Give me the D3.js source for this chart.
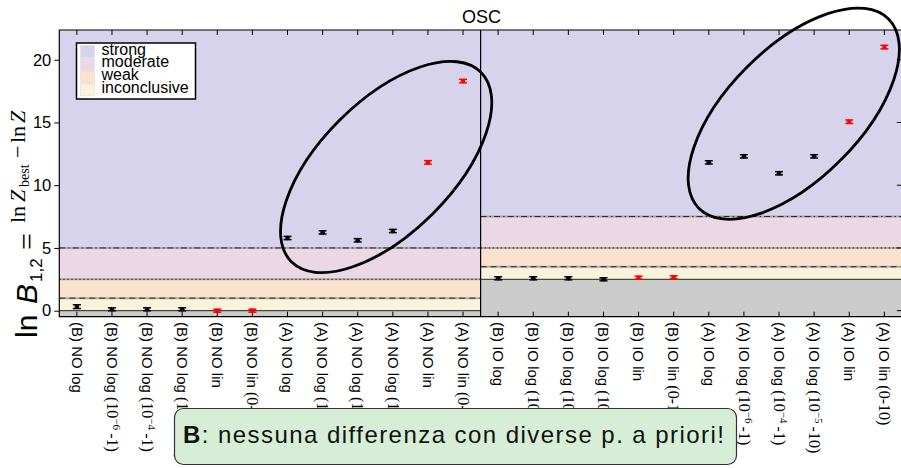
<!DOCTYPE html>
<html>
<head>
<meta charset="utf-8">
<script src="https://cdn.jsdelivr.net/npm/d3@7/dist/d3.min.js"></script>
<style>
  body { margin: 0; background: #fff; }
</style>
</head>
<body>
<svg class="chart" width="901" height="468"></svg>
<script>
// --- data ---
const categories = [
  "(B) NO log", "(B) NO log (10^{−6}-1)", "(B) NO log (10^{−4}-1)", "(B) NO log (10^{−5}-10)",
  "(B) NO lin", "(B) NO lin (0-10)",
  "(A) NO log", "(A) NO log (10^{−6}-1)", "(A) NO log (10^{−4}-1)", "(A) NO log (10^{−5}-10)",
  "(A) NO lin", "(A) NO lin (0-10)",
  "(B) IO log", "(B) IO log (10^{−6}-1)", "(B) IO log (10^{−4}-1)", "(B) IO log (10^{−5}-10)",
  "(B) IO lin", "(B) IO lin (0-10)",
  "(A) IO log", "(A) IO log (10^{−6}-1)", "(A) IO log (10^{−4}-1)", "(A) IO log (10^{−5}-10)",
  "(A) IO lin", "(A) IO lin (0-10)"
];
const lnB = [0.32, 0.11, 0.11, 0.11, 0.0, 0.0, 5.79, 6.24, 5.61, 6.35, 11.82, 18.30,
             2.58, 2.58, 2.58, 2.50, 2.63, 2.66, 11.82, 12.30, 10.95, 12.30, 15.06, 21.01];
const lnBErr = [0.15, 0.12, 0.12, 0.12, 0.12, 0.12, 0.13, 0.13, 0.13, 0.13, 0.14, 0.14,
                0.12, 0.12, 0.12, 0.12, 0.12, 0.12, 0.13, 0.13, 0.13, 0.13, 0.14, 0.14];
const yTicks = [0, 5, 10, 15, 20];

// panels: NO (left) with baseline 0, IO (right) with baseline 2.5
const panelFirst = [0, 12];
const panelLast = [11, 23];
const panelBase = [0, 2.5];

// Jeffreys scale limits above the baseline
const bandNames = ["inconclusive", "weak", "moderate", "strong"];
const bandLimits = [1, 2.5, 5];
const bandColors = ["#f9f3dc", "#fbe2cf", "#ecd7e4", "#d8d3ec"];

// the two circled groups: [centre index, centre value]
const circles = [[8.81, 11.45], [20.42, 15.7]];

// --- layout ---
const svg = d3.select(".chart");
const plotL = 59.3, plotR = 901.9, plotT = 30, plotB = 316.7;
const sans = "'Liberation Sans', Arial, sans-serif";
const serif = "'Liberation Serif', 'Times New Roman', serif";

const x = d3.scaleBand().domain(categories).range([plotL, plotR]).padding(0);
const xi = d3.scaleLinear().domain([-0.5, categories.length - 0.5]).range([plotL, plotR]);
const y = d3.scaleLinear().domain([-0.48, 22.37]).range([plotB, plotT]);
const xc = (c) => x(c) + x.bandwidth() / 2;

// background bands and limit lines per panel
const lineStyles = ["6,4", "1.5,2.5", "6,3,1.5,3"];
panelFirst.forEach((first, p) => {
  const x0 = x(categories[first]);
  const x1 = x(categories[panelLast[p]]) + x.bandwidth();
  const base = panelBase[p];
  const edges = [base, ...bandLimits.map((l) => base + l), y.domain()[1]];
  const g = svg.append("g");

  g.append("rect")
    .attr("x", x0).attr("y", y(base))
    .attr("width", x1 - x0).attr("height", plotB - y(base))
    .attr("fill", "#cbcbcb");

  bandNames.forEach((n, i) => {
    g.append("rect")
      .attr("x", x0).attr("y", y(edges[i + 1]))
      .attr("width", x1 - x0).attr("height", y(edges[i]) - y(edges[i + 1]))
      .attr("fill", bandColors[i]);
  });

  g.append("line")
    .attr("x1", x0).attr("x2", x1)
    .attr("y1", y(base)).attr("y2", y(base))
    .attr("stroke", "#222").attr("stroke-width", 1);

  bandLimits.forEach((l, i) => {
    const yy = y(base + l);
    g.append("line")
      .attr("x1", x0).attr("x2", x1).attr("y1", yy).attr("y2", yy)
      .attr("stroke", "#aaa").attr("stroke-width", 2);
    g.append("line")
      .attr("x1", x0).attr("x2", x1).attr("y1", yy).attr("y2", yy)
      .attr("stroke", "#222").attr("stroke-width", 1)
      .attr("stroke-dasharray", lineStyles[i]);
  });
});

// panel divider
svg.append("line")
  .attr("x1", x(categories[12])).attr("x2", x(categories[12]))
  .attr("y1", plotT).attr("y2", plotB)
  .attr("stroke", "#000").attr("stroke-width", 1.2);

// frame
svg.append("path")
  .attr("d", `M${plotR},${plotT}H${plotL}V${plotB}H${plotR}`)
  .attr("fill", "none").attr("stroke", "#000").attr("stroke-width", 1.2);

// x ticks, top and bottom, pointing inwards
const ticks = svg.append("g").attr("stroke", "#000").attr("stroke-width", 1);
categories.forEach((c) => {
  ticks.append("line").attr("x1", xc(c)).attr("x2", xc(c)).attr("y1", plotT).attr("y2", plotT + 5);
  ticks.append("line").attr("x1", xc(c)).attr("x2", xc(c)).attr("y1", plotB).attr("y2", plotB - 5);
});

// y axis on the left (outward ticks), plain ticks on the right edge
const yAxis = svg.append("g")
  .attr("transform", `translate(${plotL},0)`)
  .call(d3.axisLeft(y).tickValues(yTicks).tickSize(5).tickPadding(3));
yAxis.select(".domain").remove();
yAxis.selectAll("text")
  .attr("font-family", sans).attr("font-size", 16.5).attr("fill", "#000");
yTicks.forEach((t) => {
  ticks.append("line").attr("x1", plotR - 5).attr("x2", plotR).attr("y1", y(t)).attr("y2", y(t));
});

// x tick labels, rotated, with the prior range set in serif
categories.forEach((c) => {
  const m = c.match(/^(.*?)(?: \((.*)\))?$/);
  const t = svg.append("text")
    .attr("transform", `translate(${xc(c)},322) rotate(90)`)
    .attr("dy", "0.35em")
    .attr("font-size", 15)
    .attr("font-family", sans)
    .attr("fill", "#000");
  t.append("tspan").text(m[1] + " ");
  if (m[2]) {
    const sup = m[2].match(/^(.*)\^\{(.*)\}(.*)$/);
    if (sup) {
      t.append("tspan").attr("font-family", serif).attr("font-size", 16).text("(" + sup[1]);
      t.append("tspan").attr("font-family", serif).attr("font-size", 11).attr("dy", -6).text(sup[2]);
      t.append("tspan").attr("font-family", serif).attr("font-size", 16).attr("dy", 6).text("\u2009" + sup[3] + ")");
    } else {
      t.append("tspan").attr("font-family", serif).attr("font-size", 16).text("(" + m[2] + ")");
    }
  }
});

// points with error bars; lin priors in red
const pts = svg.append("g");
categories.forEach((c, i) => {
  const col = c.includes("lin") ? "#ff0000" : "#000";
  const cx = xc(c);
  const g = pts.append("g").attr("stroke", col).attr("fill", col);
  g.append("line").attr("x1", cx).attr("x2", cx)
    .attr("y1", y(lnB[i] - lnBErr[i])).attr("y2", y(lnB[i] + lnBErr[i])).attr("stroke-width", 1.5);
  [lnB[i] - lnBErr[i], lnB[i] + lnBErr[i]].forEach((v) => {
    g.append("line").attr("x1", cx - 4).attr("x2", cx + 4)
      .attr("y1", y(v)).attr("y2", y(v)).attr("stroke-width", 1.5);
  });
  g.append("circle").attr("cx", cx).attr("cy", y(lnB[i])).attr("r", 2.3).attr("stroke", "none");
});

// legend
const leg = svg.append("g").attr("transform", "translate(76.5,43)");
leg.append("rect").attr("width", 119).attr("height", 56)
  .attr("fill", "#fff").attr("stroke", "#000").attr("stroke-width", 1.5);
bandNames.slice().reverse().forEach((n, i) => {
  const col = bandColors[bandNames.length - 1 - i];
  leg.append("rect")
    .attr("x", 4).attr("y", 2.5 + i * 12.8).attr("width", 14).attr("height", 12)
    .attr("fill", col).attr("stroke", "#ddd").attr("stroke-width", 0.6);
  leg.append("text")
    .attr("x", 25).attr("y", 11.5 + i * 12.7)
    .attr("font-family", sans).attr("font-size", 16).attr("fill", "#000")
    .text(n);
});

// title
svg.append("text")
  .attr("x", 481.5).attr("y", 23)
  .attr("text-anchor", "middle")
  .attr("font-family", sans).attr("font-size", 18)
  .text("OSC");

// y label: "ln B_{1,2} =" in sans, then the definition in serif math
const yl = svg.append("text")
  .attr("transform", "translate(37,338) rotate(-90)")
  .attr("font-family", sans).attr("font-size", 30).attr("fill", "#000");
yl.append("tspan").attr("x", 0).text("ln");
yl.append("tspan").attr("x", 34).attr("font-style", "italic").text("B");
yl.append("tspan").attr("x", 56).attr("font-size", 17).attr("dy", 5).text("1,2");
yl.append("tspan").attr("x", 88).attr("dy", -5).attr("font-family", serif).text("=");

const yl2 = svg.append("text")
  .attr("transform", "translate(25,223) rotate(-90)")
  .attr("font-family", serif).attr("font-size", 22).attr("fill", "#000");
yl2.append("tspan").attr("x", 0).text("ln");
yl2.append("tspan").attr("x", 21).attr("font-style", "italic").text("Z");
yl2.append("tspan").attr("x", 36).attr("font-size", 14).attr("dy", 4).text("best");
yl2.append("tspan").attr("x", 65).attr("dy", -4).text("−");
yl2.append("tspan").attr("x", 80).text("ln");
yl2.append("tspan").attr("x", 100).attr("font-style", "italic").text("Z");

// the circled groups
circles.forEach(([ci, cv]) => {
  svg.append("ellipse")
    .attr("cx", 0).attr("cy", 0).attr("rx", 134).attr("ry", 66)
    .attr("transform", `translate(${xi(ci)},${y(cv)}) rotate(-45)`)
    .attr("fill", "none").attr("stroke", "#000").attr("stroke-width", 2.8);
});

// note box
const note = svg.append("g");
note.append("rect")
  .attr("x", 174.5).attr("y", 408.5).attr("width", 562).attr("height", 56).attr("rx", 9)
  .attr("fill", "#d5eed5").attr("stroke", "#333").attr("stroke-width", 1.2);
const nt = note.append("text")
  .attr("x", 183).attr("y", 443)
  .attr("font-family", sans).attr("font-size", 24).attr("fill", "#111")
  .attr("textLength", 541).attr("lengthAdjust", "spacing");
nt.append("tspan").attr("font-weight", "bold").text("B");
nt.append("tspan").text(": nessuna differenza con diverse p. a priori!");
</script>
</body>
</html>
